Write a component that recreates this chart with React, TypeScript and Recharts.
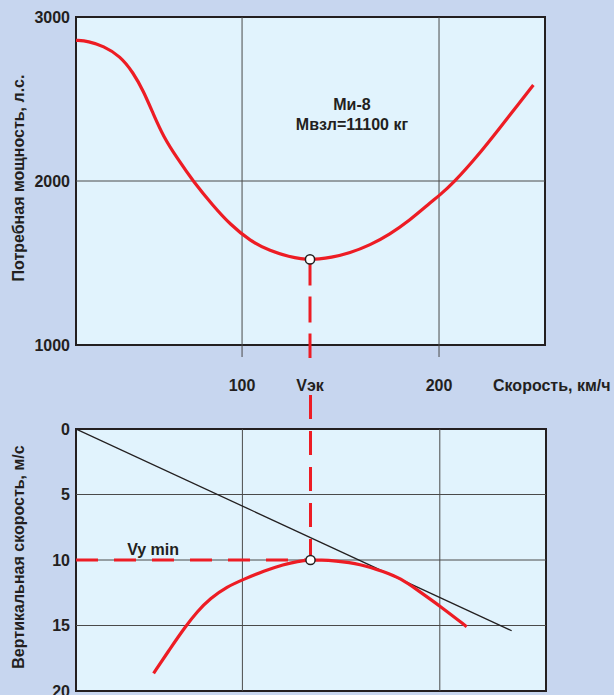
import React from 'react';
import {
  ComposedChart,
  Line,
  XAxis,
  YAxis,
  CartesianGrid,
  ReferenceLine,
  ReferenceArea,
  ReferenceDot,
  Scatter,
} from 'recharts';

const FONT = '"Liberation Sans", Arial, Helvetica, sans-serif';
const INK = '#231f20';
const RED = '#ed1c24';
const GRID = '#4a4a4a';
const PAGE_BG = '#c7d6ef';
const PLOT_BG = '#e1f3fd';

// shared speed axis (km/h)
const X_DOMAIN: [number, number] = [15.7, 253.8];
const V_EK = 134.5;
const X_TICKS = [100, V_EK, 200];
const X_TICK_LABELS = ['100', 'Vэк', '200'];
const X_GRID = [100, 200];

// top panel: required power (hp)
const POWER_DOMAIN: [number, number] = [1000, 3000];
const POWER_TICKS = [1000, 2000, 3000];
const POWER_GRID = [2000];
const POWER_SPEED = [15.7, 22, 29.6, 38.1, 44.8, 49.9, 55.0, 60.1, 66.9, 75.3, 85.4, 93.9, 104.1, 114.2, 124.4, 130, 134.5, 139, 144.7, 154.8, 165, 175, 185, 195, 200.5, 207.3, 219.1, 231.0, 239.5, 247.9];
const POWER_VALUES = [2858, 2852, 2823, 2762, 2660, 2549, 2407, 2270, 2142, 1996, 1848, 1736, 1634, 1573, 1537, 1526, 1522, 1524, 1532, 1561, 1609, 1675, 1759, 1862, 1915, 1988, 2145, 2325, 2457, 2585];
const POWER_MIN = 1522;
const POWER_DASH_END = 921;
const NOTE_SPEED = 155.8;
const NOTE_POWER = 2433;
const NOTE_LINES = ['Ми-8', 'Мвзл=11100 кг'];

// bottom panel: vertical speed (m/s)
const VY_DOMAIN: [number, number] = [0, 20];
const VY_TICKS = [0, 5, 10, 15, 20];
const VY_GRID = [5, 10, 15];
const VY_SPEED = [55.0, 63.5, 71.1, 77.0, 83.8, 92.2, 100.7, 110.8, 121.0, 128, 134.5, 140, 146.3, 159.9, 171.7, 180.2, 188.7, 200.5, 213.6];
const VY_VALUES = [18.65, 16.74, 15.09, 13.95, 12.92, 12.04, 11.47, 10.84, 10.33, 10.1, 10.0, 10.0, 10.05, 10.3, 10.9, 11.4, 12.3, 13.56, 15.09];
const VY_MIN = 10;
const TANGENT_SPEED = [15.7, 236.4];
const TANGENT_VY = [0, 15.4];
const VY_DASH_START = -2.6;
const VYMIN_LABEL_SPEED = 41.6;
const VYMIN_LABEL_VY = 9.6;

const powerData = POWER_SPEED.map((v, i) => ({ v, p: POWER_VALUES[i] }));
const vyData = VY_SPEED.map((v, i) => ({ v, vy: VY_VALUES[i] }));
const tangentData = TANGENT_SPEED.map((v, i) => ({ v, vy: TANGENT_VY[i] }));

const tickStyle = { fill: INK, fontSize: 16, fontWeight: 'bold' as const, fontFamily: FONT };

const TopTick = (props: any) => {
  const { x, y, payload } = props;
  const i = X_TICKS.indexOf(payload.value);
  const label = i >= 0 ? X_TICK_LABELS[i] : String(payload.value);
  const isVek = payload.value === V_EK;
  return (
    <g>
      {!isVek && <line x1={x} x2={x} y1={y} y2={y + 12} stroke={GRID} strokeWidth={1} />}
      <text x={x} y={y + 46} textAnchor="middle" {...tickStyle}>
        {label}
      </text>
    </g>
  );
};

const XTitle = (props: any) => {
  const vb = props.viewBox || { x: 0, y: 0, width: 0, height: 0 };
  return (
    <text x={vb.x + vb.width - 52} y={vb.y + 46} textAnchor="start" {...tickStyle}>
      Скорость, км/ч
    </text>
  );
};

const YTitle = (props: any) => {
  const vb = props.viewBox || { x: 0, y: 0, width: 0, height: 0 };
  const cx = vb.x + 24;
  const cy = vb.y + vb.height / 2 - 3;
  return (
    <text
      x={cx}
      y={cy}
      textAnchor="middle"
      transform={`rotate(-90, ${cx}, ${cy})`}
      {...tickStyle}
    >
      {props.text}
    </text>
  );
};

const Marker = (props: any) => {
  const { cx, cy } = props;
  if (cx == null || cy == null) return null;
  return <circle cx={cx} cy={cy} r={4.6} fill="#ffffff" stroke={INK} strokeWidth={1.5} />;
};

const NoteShape = (props: any) => {
  const { cx, cy } = props;
  return (
    <g>
      {NOTE_LINES.map((t, i) => (
        <text key={i} x={cx} y={cy + i * 20} textAnchor="middle" {...tickStyle}>
          {t}
        </text>
      ))}
    </g>
  );
};

const VyMinShape = (props: any) => {
  const { cx, cy } = props;
  return (
    <text x={cx} y={cy} textAnchor="start" {...tickStyle}>
      Vy min
    </text>
  );
};

export default function App() {
  return (
    <div
      style={{
        position: 'absolute',
        left: 0,
        top: 0,
        width: 614,
        height: 695,
        overflow: 'hidden',
        background: PAGE_BG,
        fontFamily: FONT,
      }}
    >
      <div style={{ position: 'absolute', left: 0, top: 0 }}>
        <ComposedChart width={614} height={430} margin={{ top: 17, right: 69, left: 0, bottom: 0 }}>
          <CartesianGrid horizontal={false} vertical={false} fill={PLOT_BG} fillOpacity={1} />
          <XAxis
            dataKey="v"
            type="number"
            domain={X_DOMAIN}
            ticks={X_TICKS}
            allowDataOverflow
            height={85}
            axisLine={false}
            tickLine={false}
            tickSize={0}
            tickMargin={0}
            tick={<TopTick />}
            interval={0}
            label={<XTitle />}
          />
          <YAxis
            type="number"
            domain={POWER_DOMAIN}
            ticks={POWER_TICKS}
            allowDataOverflow
            width={76}
            axisLine={false}
            tickLine={false}
            tickSize={0}
            tickMargin={6}
            tick={tickStyle}
            interval={0}
            label={<YTitle text="Потребная мощность, л.с." />}
          />
          {X_GRID.map((x) => (
            <ReferenceLine key={'gx' + x} x={x} stroke={GRID} strokeWidth={1} />
          ))}
          {POWER_GRID.map((y) => (
            <ReferenceLine key={'gy' + y} y={y} stroke={GRID} strokeWidth={1} />
          ))}
          <ReferenceArea
            x1={X_DOMAIN[0]}
            x2={X_DOMAIN[1]}
            y1={POWER_DOMAIN[0]}
            y2={POWER_DOMAIN[1]}
            fill="none"
            fillOpacity={0}
            stroke={INK}
            strokeWidth={2}
          />
          <ReferenceLine
            segment={[
              { x: V_EK, y: POWER_MIN },
              { x: V_EK, y: POWER_DASH_END },
            ]}
            ifOverflow="visible"
            stroke={RED}
            strokeWidth={3}
            strokeDasharray="26 11"
          />
          <ReferenceDot
            x={NOTE_SPEED}
            y={NOTE_POWER}
            r={0}
            ifOverflow="visible"
            shape={<NoteShape />}
          />
          <Line
            data={powerData}
            dataKey="p"
            type="basis"
            stroke={RED}
            strokeWidth={3.2}
            dot={false}
            activeDot={false}
            isAnimationActive={false}
          />
          <Scatter
            data={[{ v: V_EK, p: POWER_MIN }]}
            dataKey="p"
            shape={<Marker />}
            isAnimationActive={false}
          />
        </ComposedChart>
      </div>
      <div style={{ position: 'absolute', left: 0, top: 380 }}>
        <ComposedChart width={614} height={315} margin={{ top: 49, right: 68, left: 0, bottom: 4 }}>
          <CartesianGrid horizontal={false} vertical={false} fill={PLOT_BG} fillOpacity={1} />
          <XAxis
            dataKey="v"
            type="number"
            domain={X_DOMAIN}
            ticks={X_TICKS}
            allowDataOverflow
            hide
          />
          <YAxis
            type="number"
            domain={VY_DOMAIN}
            ticks={VY_TICKS}
            reversed
            allowDataOverflow
            width={76}
            axisLine={false}
            tickLine={false}
            tickSize={0}
            tickMargin={6}
            tick={tickStyle}
            interval={0}
            label={<YTitle text="Вертикальная скорость, м/с" />}
          />
          {X_GRID.map((x) => (
            <ReferenceLine key={'bgx' + x} x={x} stroke={GRID} strokeWidth={1} />
          ))}
          {VY_GRID.map((y) => (
            <ReferenceLine key={'bgy' + y} y={y} stroke={GRID} strokeWidth={1} />
          ))}
          <ReferenceArea
            x1={X_DOMAIN[0]}
            x2={X_DOMAIN[1]}
            y1={VY_DOMAIN[0]}
            y2={VY_DOMAIN[1]}
            fill="none"
            fillOpacity={0}
            stroke={INK}
            strokeWidth={2}
          />
          <ReferenceLine
            segment={[
              { x: V_EK, y: VY_DASH_START },
              { x: V_EK, y: VY_MIN },
            ]}
            ifOverflow="visible"
            stroke={RED}
            strokeWidth={3}
            strokeDasharray="24 12"
          />
          <ReferenceLine
            segment={[
              { x: X_DOMAIN[0], y: VY_MIN },
              { x: V_EK, y: VY_MIN },
            ]}
            ifOverflow="visible"
            stroke={RED}
            strokeWidth={3}
            strokeDasharray="22 16"
          />
          <ReferenceDot
            x={VYMIN_LABEL_SPEED}
            y={VYMIN_LABEL_VY}
            r={0}
            ifOverflow="visible"
            shape={<VyMinShape />}
          />
          <Line
            data={tangentData}
            dataKey="vy"
            type="linear"
            stroke={INK}
            strokeWidth={1.3}
            dot={false}
            activeDot={false}
            isAnimationActive={false}
          />
          <Line
            data={vyData}
            dataKey="vy"
            type="basis"
            stroke={RED}
            strokeWidth={3.2}
            dot={false}
            activeDot={false}
            isAnimationActive={false}
          />
          <Scatter
            data={[{ v: V_EK, vy: VY_MIN }]}
            dataKey="vy"
            shape={<Marker />}
            isAnimationActive={false}
          />
        </ComposedChart>
      </div>
    </div>
  );
}
